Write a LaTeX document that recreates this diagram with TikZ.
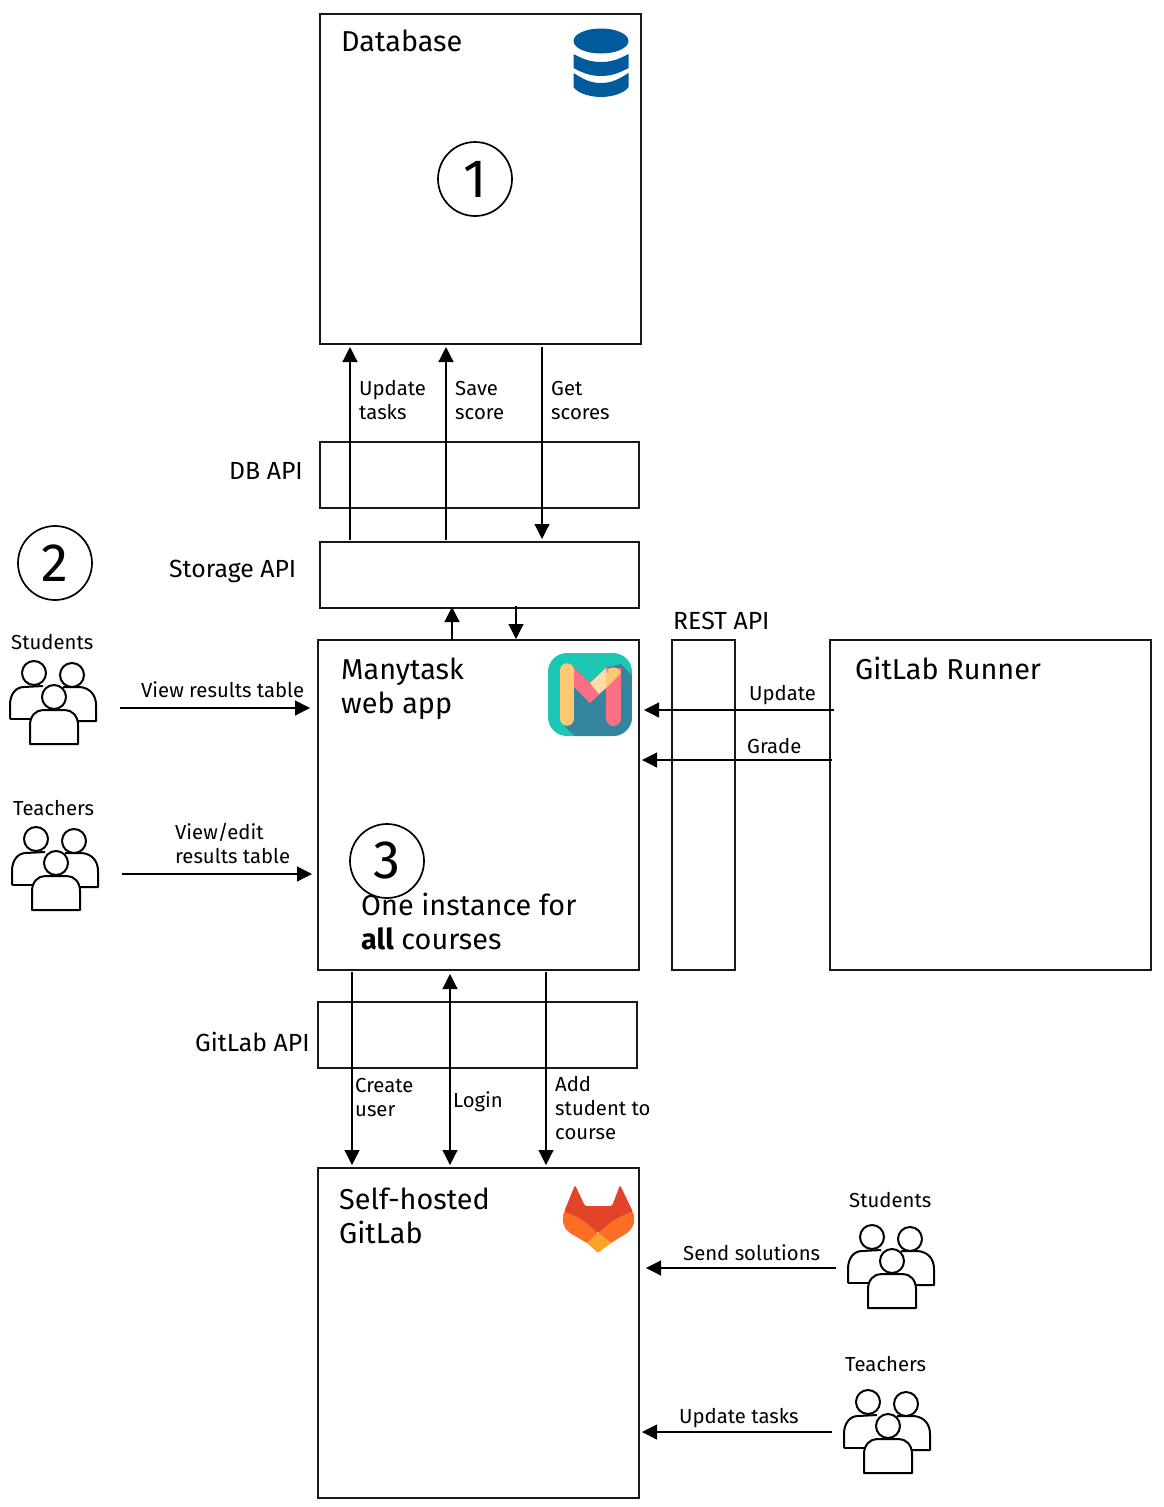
\documentclass[tikz,border=0pt]{standalone}
\usepackage{fontspec}
\setmainfont{Fira Sans}
\usetikzlibrary{arrows.meta,calc}
\definecolor{dbblue}{HTML}{005A9C}
\definecolor{mteal}{HTML}{1CC8B4}
\definecolor{mdark}{HTML}{36859F}
\definecolor{myellow}{HTML}{FFC973}
\definecolor{mpink}{HTML}{F97183}
\definecolor{mpeach}{HTML}{FFDCA8}
\definecolor{glred}{HTML}{E24329}
\definecolor{glorange}{HTML}{FC6D26}
\definecolor{glyellow}{HTML}{FCA326}
\tikzset{
  x=1pt,y=-1pt,
  box/.style={draw=black!90,line width=1.7pt,rectangle,anchor=north west,inner sep=0pt,outer sep=0pt},
  arr/.style={draw=black,line width=1.2pt,-{Triangle[length=15pt,width=15pt]}},
  big/.style={font=\fontsize{28.8}{34}\selectfont,anchor=north west,inner sep=0pt,align=left},
  lab/.style={font=\fontsize{20.3}{24}\selectfont,anchor=north west,inner sep=0pt,align=left},
  api/.style={font=\fontsize{24.8}{28}\selectfont,anchor=base west,inner sep=0pt},
  num/.style={circle,draw=black,line width=1.7pt,minimum size=74pt,inner sep=0pt,outer sep=0pt,font=\fontsize{54}{54}\selectfont},
  people/.pic={
    \begin{scope}[line width=2pt,draw=black,fill=white,line join=round]
      \draw[fill=white] (10,59) -- (10,45) .. controls (10,34) and (16,27) .. (24,27) -- (43,26);
      \draw[fill=white] (10,59) -- (30,59);
      \draw[fill=white] (63,27) -- (80,27) .. controls (90,28) and (96,35) .. (96,45) -- (96,61) -- (78,61);
      \draw[fill=white] (34,13) circle (12);
      \draw[fill=white] (72,15) circle (12);
      \draw[fill=white] (30,84) -- (30,65) .. controls (30,56) and (36,50) .. (43,50) -- (65,50) .. controls (72,50) and (78,56) .. (78,65) -- (78,84) -- cycle;
      \draw[fill=white] (54,37) circle (12);
    \end{scope}
  }
}
\begin{document}
\begin{tikzpicture}
\useasboundingbox (0,0) rectangle (1163,1507);
% boxes
\node[box,minimum width=321pt,minimum height=330pt] (db) at (320,14) {};
\node[box,minimum width=319pt,minimum height=66pt] (dbapi) at (320,442) {};
\node[box,minimum width=319pt,minimum height=66pt] (storage) at (320,542) {};
\node[box,minimum width=321pt,minimum height=330pt] (web) at (318,640) {};
\node[box,minimum width=63pt,minimum height=330pt] (rest) at (672,640) {};
\node[box,minimum width=321pt,minimum height=330pt] (runner) at (830,640) {};
\node[box,minimum width=319pt,minimum height=66pt] (glapi) at (318,1002) {};
\node[box,minimum width=321pt,minimum height=330pt] (gitlab) at (318,1168) {};
% database icon
\begin{scope}
  \fill[dbblue] (601,41) ellipse (27.5 and 12.5);
  \fill[dbblue] (573.5,54) .. controls (583,59) and (590,62) .. (601,62) .. controls (612,62) and (619,59) .. (628.5,54) -- (628.5,68) .. controls (619,73) and (612,76) .. (601,76) .. controls (590,76) and (583,73) .. (573.5,68) -- cycle;
  \fill[dbblue] (573.5,73) .. controls (583,79) and (590,83) .. (601,83) .. controls (612,83) and (619,79) .. (628.5,73) -- (628.5,87) .. controls (625,93) and (612,97) .. (601,97) .. controls (590,97) and (577,93) .. (573.5,87) -- cycle;
\end{scope}
% manytask icon
\begin{scope}
  \clip[rounded corners=19pt] (548,653) rectangle (632,736);
  \fill[mteal] (548,653) rectangle (632,736);
  \fill[mdark] (574,668) -- (590,683) -- (606,668) -- (621,664) -- (632,675) -- (632,736) -- (575,736) -- (563,725) -- cycle;
  \fill[mpink] (574,668) -- (590,683) -- (606,668) -- (621,668) -- (621,688) -- (606,688) -- (590,703) -- (574,687) -- cycle;
  \draw[mpink,line width=15pt,line cap=round] (613.5,675) -- (613.5,718.5);
  \fill[mpeach] (590,683) -- (606,668) -- (606,688) -- (599,694) -- cycle;
  \begin{scope}
    \clip (606,660) -- (625,660) -- (625,669) -- (606,688) -- cycle;
    \draw[myellow,line width=15pt,line cap=round] (613.5,675) -- (613.5,700);
  \end{scope}
  \draw[myellow,line width=14.5pt,line cap=round] (567,670.5) -- (567,718.5);
\end{scope}
% gitlab icon
\begin{scope}[line join=round]
  \fill[glred,rounded corners=1.5pt] (575,1185) -- (564,1212) -- (598,1233) -- (633,1212) -- (620,1185) -- (612,1206) -- (585,1206) -- cycle;
  \fill[glorange] (564,1212) .. controls (561,1222) and (564,1229) .. (570,1233) -- (587,1243) -- (598,1233) .. controls (588,1224) and (578,1215) .. (564,1212) -- cycle;
  \fill[glorange] (633,1212) .. controls (636,1222) and (633,1229) .. (627,1233) -- (611,1243) -- (598,1233) .. controls (608,1224) and (619,1215) .. (633,1212) -- cycle;
  \fill[glyellow] (598,1233) -- (611,1243) -- (599,1252) -- (597,1252) -- (587,1243) -- cycle;
\end{scope}
% people
\pic at (0,660) {people};
\pic at (2,826) {people};
\pic at (838,1224) {people};
\pic at (834,1389) {people};
% circles
\node[num] (n1) at (475,179) {1};
\node[num] (n2) at (55,563) {2};
\node[num] (n3) at (387,861) {\raisebox{2pt}{3}};
% titles
\node[big] (tdb) at (341,30) {Database};
\node[big] (tweb) at (341,658) {Manytask\\web app};
\node[big] (trun) at (855,657) {GitLab Runner};
\node[big] (tgl) at (339,1188) {Self-hosted\\GitLab};
\node[big] (tone) at (361,893) {One instance for\\\textbf{all} courses};
% api labels
\node[api] at (229,479) {DB API};
\node[api] at (169,577) {Storage API};
\node[api] at (673,629) {REST API};
\node[api] at (195,1051) {GitLab API};
% edge labels
\node[lab] at (359,380) {Update\\tasks};
\node[lab] at (455,381) {Save\\score};
\node[lab] at (551,381) {Get\\scores};
\node[lab] at (141,681) {View results table};
\node[lab] at (175,823) {View/edit\\results table};
\node[lab] at (749,685) {Update};
\node[lab] at (747,738) {Grade};
\node[lab] at (355,1078) {Create\\user};
\node[lab] at (453,1091) {Login};
\node[lab] at (555,1076) {Add\\student to\\course};
\node[lab] at (683,1244) {Send solutions};
\node[lab] at (679,1408) {Update tasks};
\node[lab] at (11,634) {Students};
\node[lab] at (13,800) {Teachers};
\node[lab] at (849,1192) {Students};
\node[lab] at (845,1356) {Teachers};
% connector coordinates
\coordinate (a) at (350,0);
\coordinate (b) at (446,0);
\coordinate (c) at (542,0);
\coordinate (d) at (452,0);
\coordinate (e) at (516,0);
\coordinate (f) at (352,0);
\coordinate (g) at (450,0);
\coordinate (h) at (546,0);
\coordinate (s1) at (120,708);
\coordinate (t1) at (122,874);
\coordinate (u) at (0,710);
\coordinate (v) at (0,760);
\coordinate (s2) at (836,1268);
\coordinate (t2) at (832,1432);
% connectors
\draw[arr,shorten <=2pt,shorten >=3pt] (a |- storage.north) -- (a |- db.south);
\draw[arr,shorten <=2pt,shorten >=3pt] (b |- storage.north) -- (b |- db.south);
\draw[arr,shorten <=3pt,shorten >=3pt] (c |- db.south) -- (c |- storage.north);
\draw[arr,shorten >=-1pt] (d |- web.north) -- (d |- storage.south);
\draw[arr,shorten >=1pt,shorten <=-2pt] (e |- storage.south) -- (e |- web.north);
\draw[arr,shorten >=8pt] (s1) -- (s1 -| web.west);
\draw[arr,shorten >=6pt] (t1) -- (t1 -| web.west);
\draw[arr,shorten <=-4pt,shorten >=5pt] (u -| runner.west) -- (u -| web.east);
\draw[arr,shorten <=-2pt,shorten >=3pt] (v -| runner.west) -- (v -| web.east);
\draw[arr,shorten <=2pt,shorten >=3pt] (f |- web.south) -- (f |- gitlab.north);
\draw[draw=black,line width=1.2pt,{Triangle[length=15pt,width=15pt]}-{Triangle[length=15pt,width=15pt]},shorten <=4pt,shorten >=3pt] (g |- web.south) -- (g |- gitlab.north);
\draw[arr,shorten <=2pt,shorten >=3pt] (h |- web.south) -- (h |- gitlab.north);
\draw[arr,shorten >=7pt] (s2) -- (s2 -| gitlab.east);
\draw[arr,shorten >=3pt] (t2) -- (t2 -| gitlab.east);
\end{tikzpicture}
\end{document}
